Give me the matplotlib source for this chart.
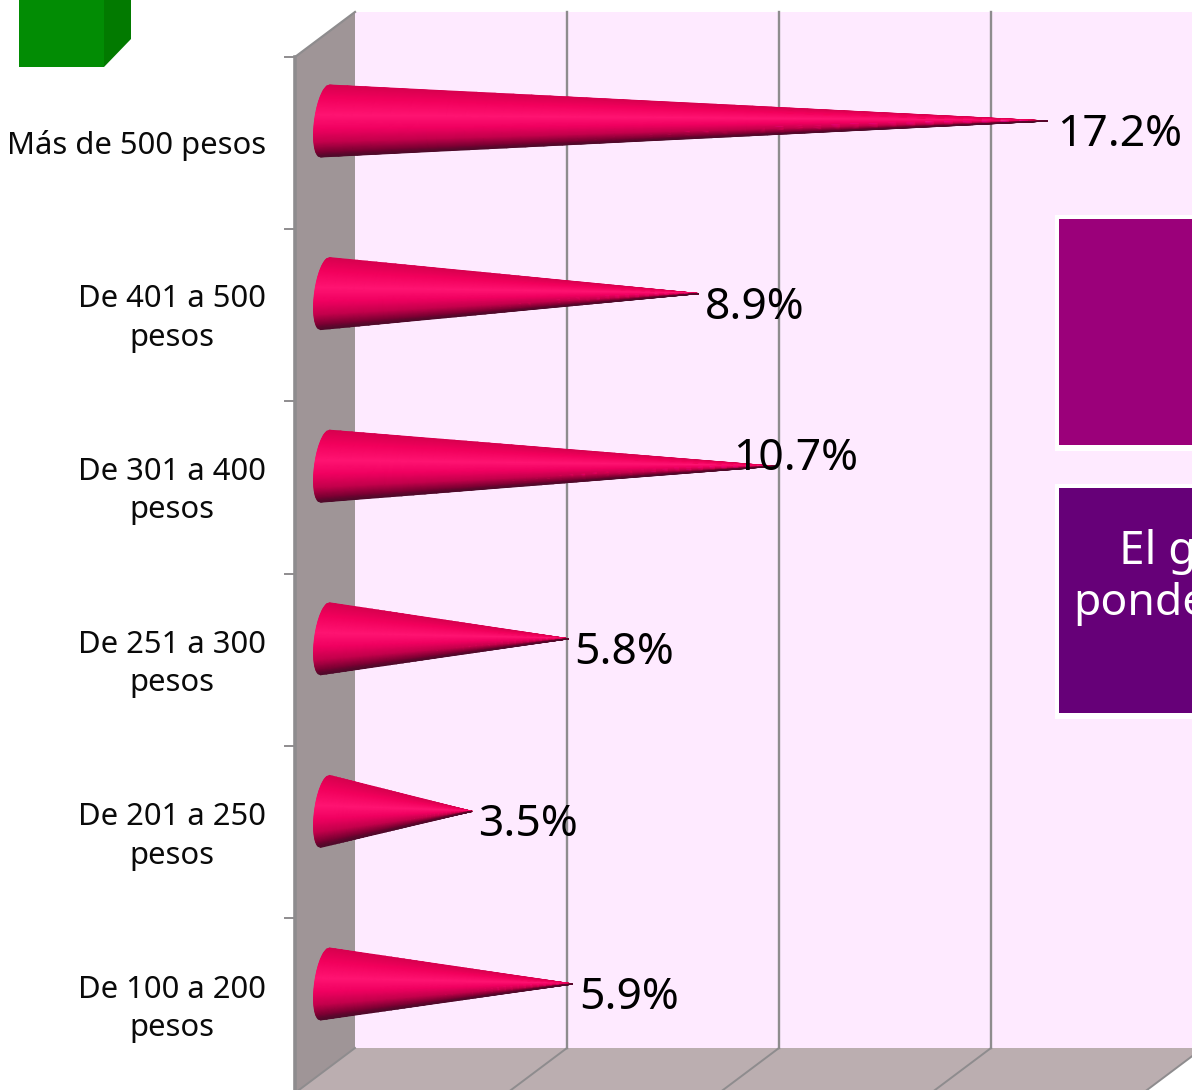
import numpy as np
import matplotlib
matplotlib.use("Agg")
import matplotlib.pyplot as plt
from matplotlib.colors import LinearSegmentedColormap
from matplotlib.patches import Polygon, Rectangle

categories = ["Más de 500 pesos", "De 401 a 500\npesos", "De 301 a 400\npesos",
              "De 251 a 300\npesos", "De 201 a 250\npesos", "De 100 a 200\npesos"]
values = [17.2, 8.9, 10.7, 5.8, 3.5, 5.9]
value_labels = ["17.2%", "8.9%", "10.7%", "5.8%", "3.5%", "5.9%"]

W, H = 1192, 1090
plt.rcParams["font.family"] = ["Noto Sans", "DejaVu Sans"]
fig = plt.figure(figsize=(W / 100, H / 100), dpi=100, facecolor="white")

# Pixel-space layer for the 3D box, legend fragments and side boxes
bg = fig.add_axes([0, 0, 1, 1], zorder=0)
bg.set_xlim(0, W); bg.set_ylim(H, 0); bg.axis("off")

WALL = "#feeaff"; SIDE = "#9f9597"; FLOOR = "#bbaeb0"; EDGE = "#8e8c8e"
bg.add_patch(Rectangle((355, 12), W - 355, 1036, fc=WALL, ec="none"))
bg.add_patch(Polygon([(295, 57), (355, 12), (355, 1048), (295, 1093)], fc=SIDE, ec="none"))
bg.add_patch(Polygon([(355, 1048), (1203, 1048), (1143, 1093), (295, 1093)], fc=FLOOR, ec="none"))
bg.plot([295, 355], [57, 12], color=EDGE, lw=1.6)
bg.plot([295, 295], [57, 1093], color=EDGE, lw=2.6)
bg.plot([295, 355], [1093, 1048], color=EDGE, lw=1.4)
for gx in (567, 779, 991):
    bg.plot([gx, gx], [12, 1048], color=EDGE, lw=1.7)
    bg.plot([gx, gx - 60], [1048, 1093], color=EDGE, lw=1.4)
bg.plot([1203, 1143], [1048, 1093], color=EDGE, lw=1.4)
for ty in np.linspace(57, 918, 6):
    bg.plot([285, 295], [ty, ty], color=EDGE, lw=1.4)

# Legend cube
bg.add_patch(Rectangle((19, -20), 85, 87, fc="#028c04", ec="none"))
bg.add_patch(Polygon([(104, -20), (131, -20), (131, 39), (104, 67)], fc="#027a00", ec="none"))

# Side boxes, cut off by the page edge
for top, bottom, col in ((219, 445, "#9b007a"), (488, 713, "#660078")):
    bg.add_patch(Rectangle((1056.5, top - 2.5), 200, bottom - top + 5, fc="white", ec="white", lw=3.6))
    bg.add_patch(Rectangle((1059, top), 200, bottom - top, fc=col, ec="none"))
bg.text(1119, 564, "El g", color="white", fontsize=33, ha="left", va="baseline")
bg.text(1073, 615, "ponde", color="white", fontsize=32, ha="left", va="baseline")

# Data layer: x in percent, y in category position
X0, KX, Y0, KY = 325.0, 42.0, 121.0, 172.6
ax = fig.add_axes([0, 0, 1, 1], zorder=1)
ax.set_xlim(-X0 / KX, (W - X0) / KX)
ax.set_ylim((H - Y0) / KY, -Y0 / KY)
ax.axis("off"); ax.patch.set_alpha(0)

cmap = LinearSegmentedColormap.from_list("cone", [
    (0.00, "#d8004f"), (0.18, "#f2005c"), (0.42, "#ff1472"), (0.62, "#f00060"),
    (0.80, "#c4004c"), (0.93, "#800034"), (1.00, "#4e0a2a")])

half_h = 36 / KY      # cone base half height
rad = 10.5 / KX       # base ellipse horizontal radius
skew = 4.5 / KX
t = np.linspace(-1, 1, 61)
s = np.linspace(0, 1, 40)
T, S = np.meshgrid(t, s, indexing="ij")
for i, v in enumerate(values):
    base_x = -rad * np.sqrt(1 - T ** 2) - skew * T
    Xm = base_x * (1 - S) + v * S
    Ym = i + T * half_h * (1 - S)
    ax.pcolormesh(Xm, Ym, T, cmap=cmap, vmin=-1, vmax=1, shading="gouraud", zorder=2)

for i, cat in enumerate(categories):
    ax.annotate(cat, xy=(0, i), xycoords="data",
                xytext=(266 - X0, -24 if i == 0 else -25), textcoords="offset pixels",
                ha="right", va="center", ma="center", fontsize=22.3, color="#0a0a0a",
                linespacing=1.36, zorder=3)

label_offsets = {"17.2%": (10, -14), "10.7%": (-41, 7)}
for i, (v, lab) in enumerate(zip(values, value_labels)):
    dx, dy = label_offsets.get(lab, (6, -14))
    ax.annotate(lab, xy=(v, i), xycoords="data", xytext=(dx, dy), textcoords="offset pixels",
                ha="left", va="center", fontsize=32, color="black", zorder=4)

fig.savefig("out.png", dpi=100, facecolor="white")
